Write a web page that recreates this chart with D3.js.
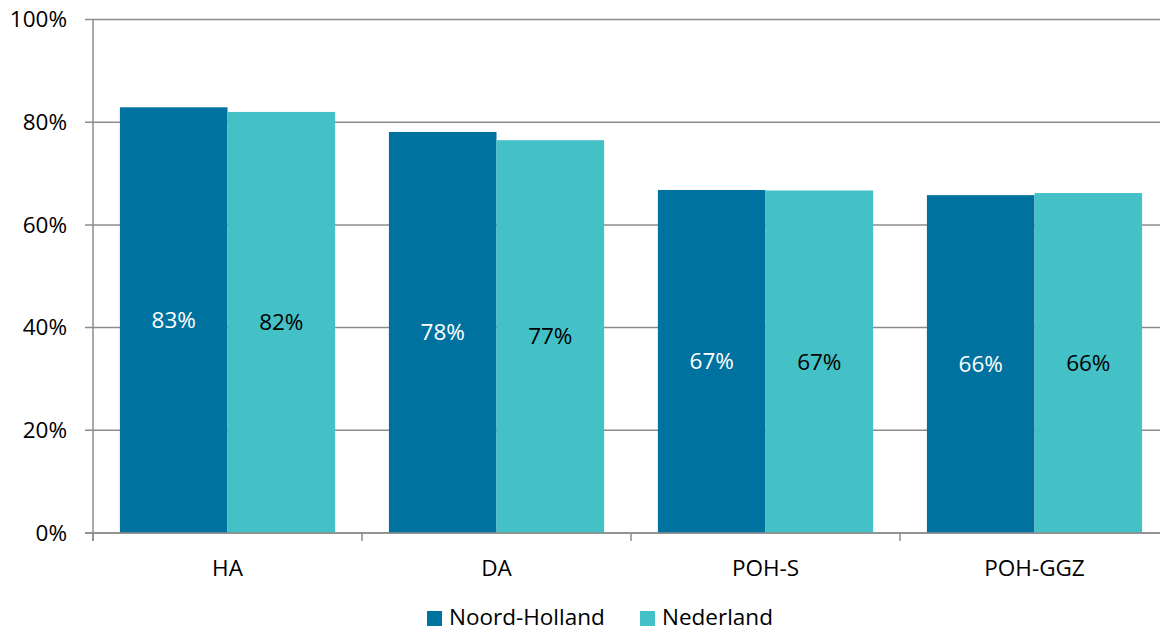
<!DOCTYPE html>
<html>
<head>
<meta charset="utf-8">
<title>Noord-Holland vs Nederland</title>
<script src="https://d3js.org/d3.v7.min.js"></script>
<style>
  body { margin: 0; background: #fff; }
  text { font-family: "Open Sans", "Noto Sans", sans-serif; fill: #000; }
</style>
</head>
<body>
<div id="chart"></div>
<script>
// categorieën en reeksen
const categories = ["HA", "DA", "POH-S", "POH-GGZ"]
const seriesNames = ["Noord-Holland", "Nederland"]
const noordHolland = [0.829, 0.781, 0.668, 0.658]
const nederland = [0.820, 0.765, 0.667, 0.662]
const labelsNH = ["83%", "78%", "67%", "66%"]
const labelsNL = ["82%", "77%", "67%", "66%"]
const yTicks = [0, 0.2, 0.4, 0.6, 0.8, 1.0]

const colors = ["#0072A0", "#43C1C6"]
const textColors = ["#fff", "#000"]
const fs = "22.5px"

const W = 1160, H = 632
const mLeft = 93, mRight = 1169, mTop = 19.5, mBottom = 533

const svg = d3.select("#chart").append("svg")
  .attr("width", W).attr("height", H)

const x = d3.scaleBand().domain(categories).range([mLeft, mRight]).paddingInner(0.2).paddingOuter(0.1)
const xs = d3.scaleBand().domain(seriesNames).range([0, x.bandwidth()])
const y = d3.scaleLinear().domain([0, 1]).range([mBottom, mTop])

// rasterlijnen
svg.append("g").selectAll("line").data(yTicks).enter().append("line")
  .attr("x1", mLeft - 8).attr("x2", mRight)
  .attr("y1", d => y(d)).attr("y2", d => y(d))
  .attr("stroke", "#8c8c8c").attr("stroke-width", 1.5)

// y-as
svg.append("line").attr("x1", mLeft).attr("x2", mLeft).attr("y1", mTop).attr("y2", mBottom + 8)
  .attr("stroke", "#8c8c8c").attr("stroke-width", 1.5)

svg.append("g").selectAll("text").data(yTicks).enter().append("text")
  .attr("x", 67).attr("y", d => y(d)).attr("dy", "0.35em")
  .attr("text-anchor", "end").style("font-size", fs)
  .text(d => d3.format(".0%")(d))

// staven
const series = [noordHolland, nederland]
const labels = [labelsNH, labelsNL]
series.forEach(function (vals, s) {
  const g = svg.append("g")
  g.selectAll("rect").data(categories).enter().append("rect")
    .attr("x", (d, i) => x(d) + xs(seriesNames[s]))
    .attr("y", (d, i) => y(vals[i]))
    .attr("width", xs.bandwidth())
    .attr("height", (d, i) => y(0) - y(vals[i]))
    .attr("fill", colors[s])
  g.selectAll("text").data(categories).enter().append("text")
    .attr("x", (d, i) => x(d) + xs(seriesNames[s]) + xs.bandwidth() / 2)
    .attr("y", (d, i) => (y(vals[i]) + y(0)) / 2)
    .attr("dy", "0.35em").attr("text-anchor", "middle")
    .style("font-size", fs).style("fill", textColors[s])
    .text((d, i) => labels[s][i])
})

// x-as
svg.append("line").attr("x1", mLeft - 8).attr("x2", mRight).attr("y1", mBottom).attr("y2", mBottom)
  .attr("stroke", "#8c8c8c").attr("stroke-width", 1.5)
svg.append("g").selectAll("line").data(categories.concat(["end"])).enter().append("line")
  .attr("x1", (d, i) => mLeft + i * x.step()).attr("x2", (d, i) => mLeft + i * x.step())
  .attr("y1", mBottom).attr("y2", mBottom + 8)
  .attr("stroke", "#8c8c8c").attr("stroke-width", 1.5)
svg.append("g").selectAll("text").data(categories).enter().append("text")
  .attr("x", d => x(d) + x.bandwidth() / 2).attr("y", 568)
  .attr("dy", "0.35em").attr("text-anchor", "middle").style("font-size", fs)
  .text(d => d)

// legenda
const legendX = [427, 640]
const lg = svg.append("g").selectAll("g").data(seriesNames).enter().append("g")
lg.append("rect").attr("x", (d, i) => legendX[i]).attr("y", 611).attr("width", 15).attr("height", 15)
  .attr("fill", (d, i) => colors[i])
lg.append("text").attr("x", (d, i) => legendX[i] + 22).attr("y", 625)
  .style("font-size", fs).text(d => d)
</script>
</body>
</html>
